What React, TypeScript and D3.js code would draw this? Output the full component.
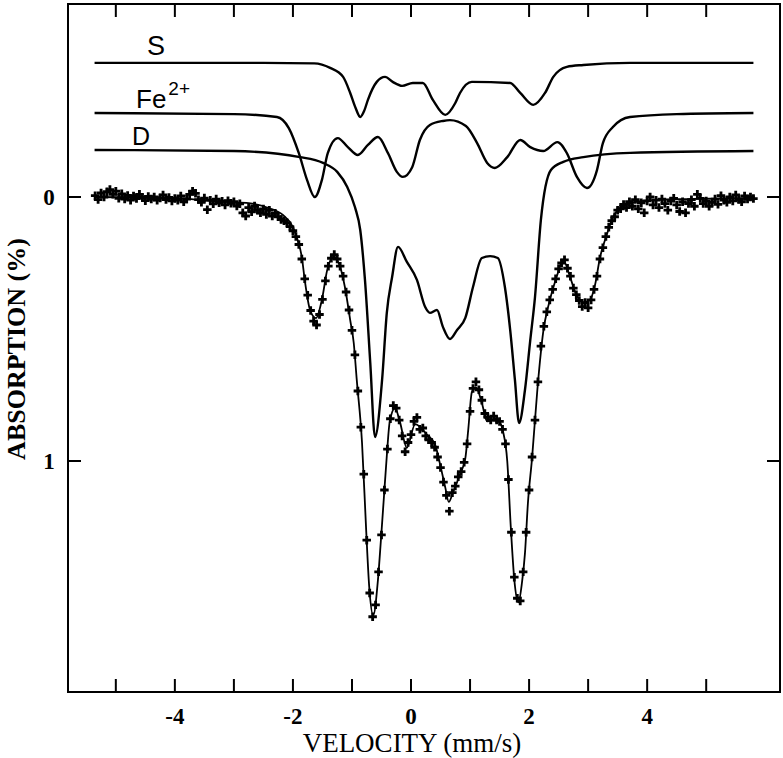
import * as React from 'react';
import { useRef, useEffect } from 'react';
import * as d3 from 'd3';

const WIDTH = 783;
const HEIGHT = 758;

// axis ticks
const velocityTicks = [-5, -4, -3, -2, -1, 0, 1, 2, 3, 4, 5];
const velocityLabels = [-4, -2, 0, 2, 4];
const absorptionTicks = [0, 1];

// measured spectrum, [velocity mm/s, absorption %]
const measured: [number, number][] = [
  [-5.35, -0.005], [-5.30, 0.010], [-5.25, -0.015], [-5.20, 0.000], [-5.15, -0.020], [-5.10, -0.028], [-5.05, -0.010], [-5.00, -0.022], [-4.95, 0.005], [-4.90, -0.012],
  [-4.85, 0.008], [-4.80, -0.006], [-4.75, 0.012], [-4.70, -0.004], [-4.65, 0.006], [-4.60, -0.010], [-4.55, 0.002], [-4.50, 0.014], [-4.45, -0.002], [-4.40, 0.008],
  [-4.35, 0.000], [-4.30, 0.012], [-4.25, 0.004], [-4.20, -0.008], [-4.15, 0.010], [-4.10, 0.002], [-4.05, 0.015], [-4.00, 0.006], [-3.95, 0.012], [-3.90, -0.004],
  [-3.85, 0.018], [-3.80, 0.008], [-3.75, -0.010], [-3.70, -0.022], [-3.65, -0.014], [-3.60, 0.010], [-3.55, 0.020], [-3.50, 0.004], [-3.45, 0.048], [-3.40, 0.012],
  [-3.35, 0.026], [-3.30, 0.008], [-3.25, 0.022], [-3.20, 0.016], [-3.15, 0.030], [-3.10, 0.014], [-3.05, 0.024], [-3.00, 0.018], [-2.95, 0.034], [-2.90, 0.026],
  [-2.85, 0.060], [-2.80, 0.072], [-2.75, 0.040], [-2.70, 0.056], [-2.65, 0.034], [-2.60, 0.050], [-2.55, 0.060], [-2.50, 0.045], [-2.45, 0.066], [-2.40, 0.050],
  [-2.35, 0.072], [-2.30, 0.062], [-2.25, 0.075], [-2.20, 0.085], [-2.15, 0.090], [-2.10, 0.098], [-2.05, 0.112], [-2.00, 0.128], [-1.95, 0.150], [-1.90, 0.180],
  [-1.85, 0.235], [-1.80, 0.310], [-1.75, 0.372], [-1.70, 0.430], [-1.65, 0.470], [-1.60, 0.485], [-1.55, 0.445], [-1.50, 0.388], [-1.45, 0.318], [-1.40, 0.262],
  [-1.35, 0.232], [-1.30, 0.218], [-1.25, 0.235], [-1.20, 0.262], [-1.15, 0.300], [-1.10, 0.360], [-1.05, 0.428], [-1.00, 0.505], [-0.95, 0.598], [-0.90, 0.735],
  [-0.85, 0.872], [-0.80, 1.050], [-0.75, 1.300], [-0.70, 1.500], [-0.65, 1.590], [-0.60, 1.545], [-0.55, 1.420], [-0.50, 1.280], [-0.45, 1.110], [-0.40, 0.955],
  [-0.35, 0.840], [-0.30, 0.790], [-0.25, 0.800], [-0.20, 0.845], [-0.15, 0.905], [-0.10, 0.965], [-0.05, 0.930], [0.00, 0.900], [0.05, 0.850], [0.10, 0.835],
  [0.15, 0.880], [0.20, 0.875], [0.25, 0.905], [0.30, 0.920], [0.35, 0.930], [0.40, 0.948], [0.45, 0.985], [0.50, 1.025], [0.55, 1.080], [0.60, 1.130],
  [0.65, 1.190], [0.70, 1.120], [0.75, 1.095], [0.80, 1.060], [0.85, 1.040], [0.90, 1.005], [0.95, 0.935], [1.00, 0.812], [1.05, 0.725], [1.10, 0.700],
  [1.15, 0.730], [1.20, 0.770], [1.25, 0.820], [1.30, 0.835], [1.35, 0.845], [1.40, 0.830], [1.45, 0.845], [1.50, 0.850], [1.55, 0.880], [1.60, 0.935],
  [1.65, 1.070], [1.70, 1.270], [1.75, 1.440], [1.80, 1.520], [1.85, 1.530], [1.90, 1.420], [1.95, 1.270], [2.00, 1.110], [2.05, 0.985], [2.10, 0.845],
  [2.15, 0.700], [2.20, 0.565], [2.25, 0.490], [2.30, 0.435], [2.35, 0.390], [2.40, 0.350], [2.45, 0.310], [2.50, 0.272], [2.55, 0.250], [2.60, 0.238],
  [2.65, 0.270], [2.70, 0.300], [2.75, 0.345], [2.80, 0.370], [2.85, 0.392], [2.90, 0.415], [2.95, 0.400], [3.00, 0.420], [3.05, 0.390], [3.10, 0.350],
  [3.15, 0.300], [3.20, 0.235], [3.25, 0.192], [3.30, 0.150], [3.35, 0.115], [3.40, 0.090], [3.45, 0.075], [3.50, 0.050], [3.55, 0.045], [3.60, 0.028],
  [3.65, 0.040], [3.70, 0.018], [3.75, 0.035], [3.80, 0.010], [3.85, 0.045], [3.90, 0.022], [3.95, 0.060], [4.00, 0.015], [4.05, 0.000], [4.10, 0.030],
  [4.15, 0.012], [4.20, 0.040], [4.25, 0.008], [4.30, 0.025], [4.35, 0.050], [4.40, 0.015], [4.45, 0.005], [4.50, 0.030], [4.55, 0.055], [4.60, 0.018],
  [4.65, 0.060], [4.70, 0.025], [4.75, 0.010], [4.80, 0.035], [4.85, -0.010], [4.90, 0.005], [4.95, 0.025], [5.00, 0.015], [5.05, 0.035], [5.10, 0.020],
  [5.15, 0.008], [5.20, 0.028], [5.25, -0.005], [5.30, 0.012], [5.35, 0.020], [5.40, 0.000], [5.45, 0.015], [5.50, -0.008], [5.55, 0.010], [5.60, 0.018],
  [5.65, -0.004], [5.70, 0.008], [5.75, 0.000], [5.80, 0.006],
];

// fitted envelope through the data
const fitCurve: [number, number][] = [
  [-5.36, 0], [-4.0, 0.004], [-3.58, 0.011], [-3.08, 0.019], [-2.75, 0.023], [-2.41, 0.042], [-2.17, 0.068], [-2.0, 0.114],
  [-1.92, 0.163], [-1.85, 0.227], [-1.8, 0.314], [-1.71, 0.428], [-1.61, 0.459], [-1.51, 0.39], [-1.42, 0.277], [-1.32, 0.227],
  [-1.2, 0.265], [-1.12, 0.341], [-1.03, 0.466], [-0.97, 0.553], [-0.92, 0.69], [-0.83, 0.93], [-0.76, 1.26], [-0.71, 1.47],
  [-0.64, 1.585], [-0.56, 1.45], [-0.51, 1.3], [-0.46, 1.14], [-0.41, 0.98], [-0.36, 0.85], [-0.27, 0.8], [-0.19, 0.85],
  [-0.07, 0.95], [0.07, 0.86], [0.27, 0.9], [0.41, 0.94], [0.49, 1.01], [0.58, 1.1], [0.64, 1.155], [0.71, 1.12],
  [0.83, 1.05], [0.92, 0.99], [0.97, 0.88], [1.03, 0.74], [1.1, 0.72], [1.2, 0.78], [1.29, 0.85], [1.46, 0.84],
  [1.56, 0.89], [1.63, 1.0], [1.69, 1.25], [1.75, 1.45], [1.82, 1.535], [1.88, 1.46], [1.93, 1.35], [1.98, 1.16],
  [2.05, 0.99], [2.14, 0.73], [2.24, 0.51], [2.34, 0.4], [2.47, 0.3], [2.58, 0.24], [2.69, 0.3], [2.78, 0.36],
  [2.92, 0.4], [3.03, 0.39], [3.12, 0.33], [3.2, 0.23], [3.32, 0.14], [3.42, 0.076], [3.54, 0.042], [3.71, 0.023],
  [3.93, 0.015], [4.56, 0.008], [5.8, 0.004],
];

// fitted subspectra, drawn shifted above the data: [velocity, absorption depth]
const sextetS: [number, number][] = [
  [-5.36, 0], [-2.5, 0], [-1.64, 0.002], [-1.37, 0.019], [-1.15, 0.053], [-1.03, 0.114], [-0.94, 0.17], [-0.86, 0.205],
  [-0.79, 0.18], [-0.73, 0.14], [-0.58, 0.072], [-0.44, 0.053], [-0.31, 0.072], [-0.15, 0.087], [0.03, 0.076], [0.2, 0.076],
  [0.37, 0.14], [0.58, 0.197], [0.75, 0.152], [0.83, 0.114], [1.03, 0.072], [1.68, 0.076], [1.85, 0.114], [2.07, 0.159],
  [2.27, 0.114], [2.41, 0.053], [2.64, 0.015], [2.92, 0.008], [3.71, 0], [5.8, 0],
];
const ferrousFe2: [number, number][] = [
  [-5.36, 0], [-3.0, 0.004], [-2.27, 0.015], [-2.07, 0.057], [-1.9, 0.152], [-1.76, 0.254], [-1.63, 0.318], [-1.51, 0.254],
  [-1.41, 0.152], [-1.24, 0.095], [-1.07, 0.129], [-0.9, 0.159], [-0.73, 0.121], [-0.56, 0.091], [-0.39, 0.152], [-0.24, 0.223],
  [-0.14, 0.242], [0.02, 0.205], [0.15, 0.102], [0.32, 0.045], [0.54, 0.03], [0.66, 0.027], [0.93, 0.049], [1.12, 0.114],
  [1.29, 0.189], [1.42, 0.208], [1.63, 0.167], [1.85, 0.102], [2.02, 0.129], [2.24, 0.144], [2.48, 0.11], [2.64, 0.152],
  [2.81, 0.242], [2.98, 0.284], [3.15, 0.216], [3.25, 0.114], [3.42, 0.053], [3.71, 0.015], [4.5, 0.004], [5.8, 0],
];
const doubletD: [number, number][] = [
  [-5.36, 0], [-3.0, 0.004], [-1.88, 0.027], [-1.49, 0.049], [-1.25, 0.083], [-1.08, 0.14], [-0.95, 0.216], [-0.86, 0.303],
  [-0.78, 0.492], [-0.69, 0.807], [-0.61, 1.087], [-0.49, 0.871], [-0.41, 0.617], [-0.32, 0.481], [-0.22, 0.367], [-0.07, 0.424],
  [0.1, 0.492], [0.24, 0.595], [0.32, 0.617], [0.44, 0.606], [0.54, 0.67], [0.66, 0.716], [0.78, 0.682], [0.92, 0.636],
  [1.05, 0.519], [1.2, 0.409], [1.34, 0.402], [1.47, 0.409], [1.59, 0.519], [1.68, 0.682], [1.76, 0.871], [1.83, 1.034],
  [1.93, 0.909], [2.02, 0.72], [2.1, 0.557], [2.2, 0.265], [2.37, 0.076], [2.58, 0.045], [2.92, 0.027], [3.71, 0.011],
  [5.8, 0.004],
];

// vertical display offsets of the subspectra (absorption units)
const offsetS = -0.508;
const offsetFe2 = -0.318;
const offsetD = -0.178;

const App = () => {
  const svgRef = useRef<SVGSVGElement>(null);

  useEffect(() => {
    const svg = d3.select(svgRef.current);
    svg.selectAll('*').remove();

    const left = 68, right = 780, top = 4, bottom = 692;
    const x = d3.scaleLinear().domain([-5.81, 6.25]).range([left, right]);
    const y = d3.scaleLinear().domain([-0.731, 1.875]).range([top, bottom]);
    const serif = '"Liberation Serif", "Times New Roman", serif';
    const sans = '"Liberation Sans", Arial, sans-serif';

    // frame
    svg.append('rect')
      .attr('x', left).attr('y', top)
      .attr('width', right - left).attr('height', bottom - top)
      .attr('fill', 'none').attr('stroke', '#000').attr('stroke-width', 2);

    // inward ticks, all four sides
    const tickLen = 13;
    const g = svg.append('g').attr('stroke', '#000').attr('stroke-width', 2);
    velocityTicks.forEach((v) => {
      g.append('line').attr('x1', x(v)).attr('x2', x(v)).attr('y1', bottom).attr('y2', bottom - tickLen);
      g.append('line').attr('x1', x(v)).attr('x2', x(v)).attr('y1', top).attr('y2', top + tickLen);
    });
    absorptionTicks.forEach((a) => {
      g.append('line').attr('x1', left).attr('x2', left + tickLen).attr('y1', y(a)).attr('y2', y(a));
      g.append('line').attr('x1', right).attr('x2', right - tickLen).attr('y1', y(a)).attr('y2', y(a));
    });

    // tick labels
    svg.append('g').selectAll('text').data(velocityLabels).join('text')
      .attr('x', (d) => x(d)).attr('y', bottom + 32)
      .attr('text-anchor', 'middle')
      .attr('font-family', serif).attr('font-size', 23).attr('font-weight', 'bold')
      .text((d) => String(d));
    svg.append('g').selectAll('text').data(absorptionTicks).join('text')
      .attr('x', 49).attr('y', (d) => y(d) + 8)
      .attr('text-anchor', 'middle')
      .attr('font-family', serif).attr('font-size', 23).attr('font-weight', 'bold')
      .text((d) => String(d));

    // axis titles
    svg.append('text')
      .attr('x', 412).attr('y', 752)
      .attr('text-anchor', 'middle')
      .attr('font-family', serif).attr('font-size', 27)
      .text('VELOCITY (mm/s)');
    svg.append('text')
      .attr('transform', 'translate(25,349) rotate(-90)')
      .attr('text-anchor', 'middle')
      .attr('font-family', serif).attr('font-size', 26).attr('font-weight', 'bold')
      .text('ABSORPTION (%)');

    // subspectra
    const subLine = (offset: number) => d3.line<[number, number]>()
      .x((d) => x(d[0]))
      .y((d) => y(offset + d[1]))
      .curve(d3.curveMonotoneX);

    [[sextetS, offsetS], [ferrousFe2, offsetFe2], [doubletD, offsetD]].forEach(([pts, off]) => {
      svg.append('path')
        .attr('d', subLine(off as number)(pts as [number, number][]))
        .attr('fill', 'none').attr('stroke', '#000').attr('stroke-width', 2.4);
    });

    // subspectrum labels
    svg.append('text')
      .attr('x', 147).attr('y', y(offsetS) - 8)
      .attr('font-family', sans).attr('font-size', 27)
      .text('S');
    const fe = svg.append('text')
      .attr('x', 136).attr('y', y(offsetFe2) - 5)
      .attr('font-family', sans).attr('font-size', 26);
    fe.append('tspan').text('Fe');
    fe.append('tspan').attr('dx', 2).attr('dy', -13).attr('font-size', 19).text('2+');
    svg.append('text')
      .attr('x', 132).attr('y', y(offsetD) - 5)
      .attr('font-family', sans).attr('font-size', 25)
      .text('D');

    // fit through data
    const fitLine = d3.line<[number, number]>()
      .x((d) => x(d[0]))
      .y((d) => y(d[1]))
      .curve(d3.curveMonotoneX);
    svg.append('path')
      .attr('d', fitLine(fitCurve))
      .attr('fill', 'none').attr('stroke', '#000').attr('stroke-width', 1.8);

    // data markers
    const cross = d3.symbol().type(d3.symbolCross).size(40);
    svg.append('g').selectAll('path').data(measured).join('path')
      .attr('transform', (d) => `translate(${x(d[0])},${y(d[1])})`)
      .attr('d', cross)
      .attr('fill', '#000');
  }, []);

  return (
    <svg
      ref={svgRef}
      width={WIDTH}
      height={HEIGHT}
      style={{ position: 'absolute', left: 0, top: 0, background: '#fff' }}
    />
  );
};

export default App;
